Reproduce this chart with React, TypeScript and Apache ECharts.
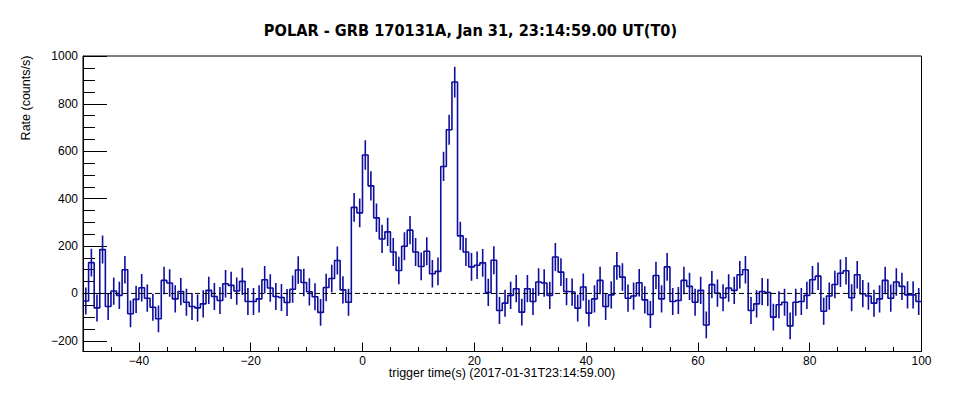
import React, { useEffect, useRef } from "react";
import * as echarts from "echarts";

// Light curve: 1 s bins starting at -50 s (rate in counts/s, background subtracted)
const BIN_START = -50;
const BIN_WIDTH = 1;
const rates = [
  -32, 130, -61, 185, -55, 10, -8, 100, -86, -25,
  24, -20, -58, -107, 55, 44, -23, 8, -37, -55,
  -61, -44, 13, -13, -30, 41, 34, 10, 51, -34,
  -34, -23, 58, 23, -13, -17, -38, 18, 99, 46,
  7, -14, -80, 25, 63, 139, 15, -37, 363, 340,
  584, 454, 319, 230, 260, 175, 97, 199, 267, 175,
  114, 178, 83, 93, 536, 691, 892, 243, 175, 112,
  119, 129, 4, 140, -72, -41, -8, 20, -79, 20,
  -34, 48, 44, -8, 154, 90, 8, 6, -62, 27,
  -83, -23, 55, -55, -6, 116, 69, -20, -11, 45,
  -27, -89, 76, -23, 112, -34, -30, 55, 30, -37,
  13, -133, 37, 1, -18, 23, 13, 79, 100, -72,
  -44, 8, 4, -100, -48, -37, -137, -37, -34, -8,
  58, 73, -75, -11, 38, 85, 96, -18, 79, -1,
  -11, -41, -23, 55, -20, 48, 30, -6, -6, -34,
];
// Background rate used for the Poisson error of each 1 s bin
const BACKGROUND_RATE = 3300;

const xMajorTicks = [-40, -20, 0, 20, 40, 60, 80, 100];
const yMajorTicks = [-200, 0, 200, 400, 600, 800, 1000];

const TITLE = "POLAR - GRB 170131A, Jan 31, 23:14:59.00 UT(T0)";
const X_TITLE = "trigger time(s) (2017-01-31T23:14:59.00)";
const Y_TITLE = "Rate (counts/s)";

const X_MIN = -50;
const X_MAX = 100;
const Y_MIN = -245;
const Y_MAX = 1002;

const HIST_COLOR = "#0d0d9e";

export default function App() {
  const ref = useRef<HTMLDivElement>(null);

  useEffect(() => {
    document.body.style.margin = "0";
    if (!ref.current) return;
    const chart = echarts.init(ref.current, null, { renderer: "svg" });

    const stepData: number[][] = rates.map((v, i) => [BIN_START + i * BIN_WIDTH, v]);
    stepData.push([BIN_START + rates.length * BIN_WIDTH, rates[rates.length - 1]]);

    const errData = rates.map((v, i) => {
      const e = Math.sqrt((BACKGROUND_RATE + v) / BIN_WIDTH);
      return [BIN_START + (i + 0.5) * BIN_WIDTH, v - e, v + e];
    });

    const xMinor: number[] = [];
    for (let x = X_MIN; x <= X_MAX; x += 5) xMinor.push(x);
    const yMinor: number[] = [];
    for (let y = -200; y <= 1000; y += 50) yMinor.push(y);

    const font = "'Liberation Sans', Arial, Helvetica, sans-serif";
    const fmt = (v: number) => (v < 0 ? "\u2212" + Math.abs(v) : String(v));

    chart.setOption({
      animation: false,
      backgroundColor: "#ffffff",
      grid: {
        left: 83,
        right: 31.5,
        top: 56,
        bottom: 43.5,
        show: true,
        borderColor: "#000",
        borderWidth: 1,
        backgroundColor: "transparent",
      },
      xAxis: [
        {
          type: "value",
          min: X_MIN,
          max: X_MAX,
          position: "bottom",
          axisLine: { show: true, onZero: false, lineStyle: { color: "#000", width: 1 } },
          axisTick: {
            show: true,
            inside: true,
            length: 9,
            customValues: xMajorTicks,
            lineStyle: { color: "#000", width: 1 },
          },
          axisLabel: {
            show: true,
            customValues: xMajorTicks,
            formatter: fmt,
            color: "#000",
            fontSize: 12,
            fontFamily: font,
            margin: 3,
          },
          splitLine: { show: false },
        },
        {
          type: "value",
          min: X_MIN,
          max: X_MAX,
          position: "bottom",
          axisLine: { show: false, onZero: false },
          axisTick: {
            show: true,
            inside: true,
            length: 4.5,
            customValues: xMinor,
            lineStyle: { color: "#000", width: 1 },
          },
          axisLabel: { show: false },
          splitLine: { show: false },
        },
      ],
      yAxis: [
        {
          type: "value",
          min: Y_MIN,
          max: Y_MAX,
          position: "left",
          axisLine: { show: true, onZero: false, lineStyle: { color: "#000", width: 1 } },
          axisTick: {
            show: true,
            inside: true,
            length: 24,
            customValues: yMajorTicks,
            lineStyle: { color: "#000", width: 1 },
          },
          axisLabel: {
            show: true,
            customValues: yMajorTicks,
            formatter: fmt,
            color: "#000",
            fontSize: 12,
            fontFamily: font,
            margin: 5,
          },
          splitLine: { show: false },
        },
        {
          type: "value",
          min: Y_MIN,
          max: Y_MAX,
          position: "left",
          axisLine: { show: false, onZero: false },
          axisTick: {
            show: true,
            inside: true,
            length: 12,
            customValues: yMinor,
            lineStyle: { color: "#000", width: 1 },
          },
          axisLabel: { show: false },
          splitLine: { show: false },
        },
      ],
      series: [
        {
          type: "custom",
          name: "errors",
          xAxisIndex: 0,
          yAxisIndex: 0,
          clip: true,
          encode: { x: 0, y: [1, 2] },
          data: errData,
          renderItem: (params: any, api: any) => {
            const x = api.value(0);
            const p1 = api.coord([x, api.value(1)]);
            const p2 = api.coord([x, api.value(2)]);
            return {
              type: "line",
              shape: { x1: p1[0], y1: p1[1], x2: p2[0], y2: p2[1] },
              style: { stroke: HIST_COLOR, lineWidth: 1.6 },
            };
          },
          z: 2,
        },
        {
          type: "line",
          name: "rate",
          xAxisIndex: 0,
          yAxisIndex: 0,
          step: "end",
          showSymbol: false,
          symbol: "none",
          data: stepData,
          lineStyle: { color: HIST_COLOR, width: 1.6 },
          z: 3,
        },
        {
          type: "line",
          name: "zero",
          xAxisIndex: 0,
          yAxisIndex: 0,
          showSymbol: false,
          symbol: "none",
          data: [
            [X_MIN, 0],
            [X_MAX, 0],
          ],
          lineStyle: { color: "#000", width: 1, type: [5, 3] },
          z: 4,
        },
      ],
      graphic: [
        {
          type: "text",
          x: 470.5,
          y: 30,
          style: {
            text: TITLE,
            fill: "#000",
            font: "bold 16.2px 'Liberation Sans Narrow', 'DejaVu Sans Condensed', Arial, sans-serif",
            textAlign: "center",
            textVerticalAlign: "middle",
          },
        },
        {
          type: "text",
          x: 502,
          y: 373,
          style: {
            text: X_TITLE,
            fill: "#000",
            font: "12.5px 'Liberation Sans', Arial, sans-serif",
            textAlign: "center",
            textVerticalAlign: "middle",
          },
        },
        {
          type: "text",
          x: 26,
          y: 98,
          rotation: Math.PI / 2,
          style: {
            text: Y_TITLE,
            fill: "#000",
            font: "12.5px 'Liberation Sans', Arial, sans-serif",
            textAlign: "center",
            textVerticalAlign: "middle",
          },
        },
      ],
    });

    return () => {
      chart.dispose();
    };
  }, []);

  return <div ref={ref} style={{ width: 953, height: 395 }} />;
}
